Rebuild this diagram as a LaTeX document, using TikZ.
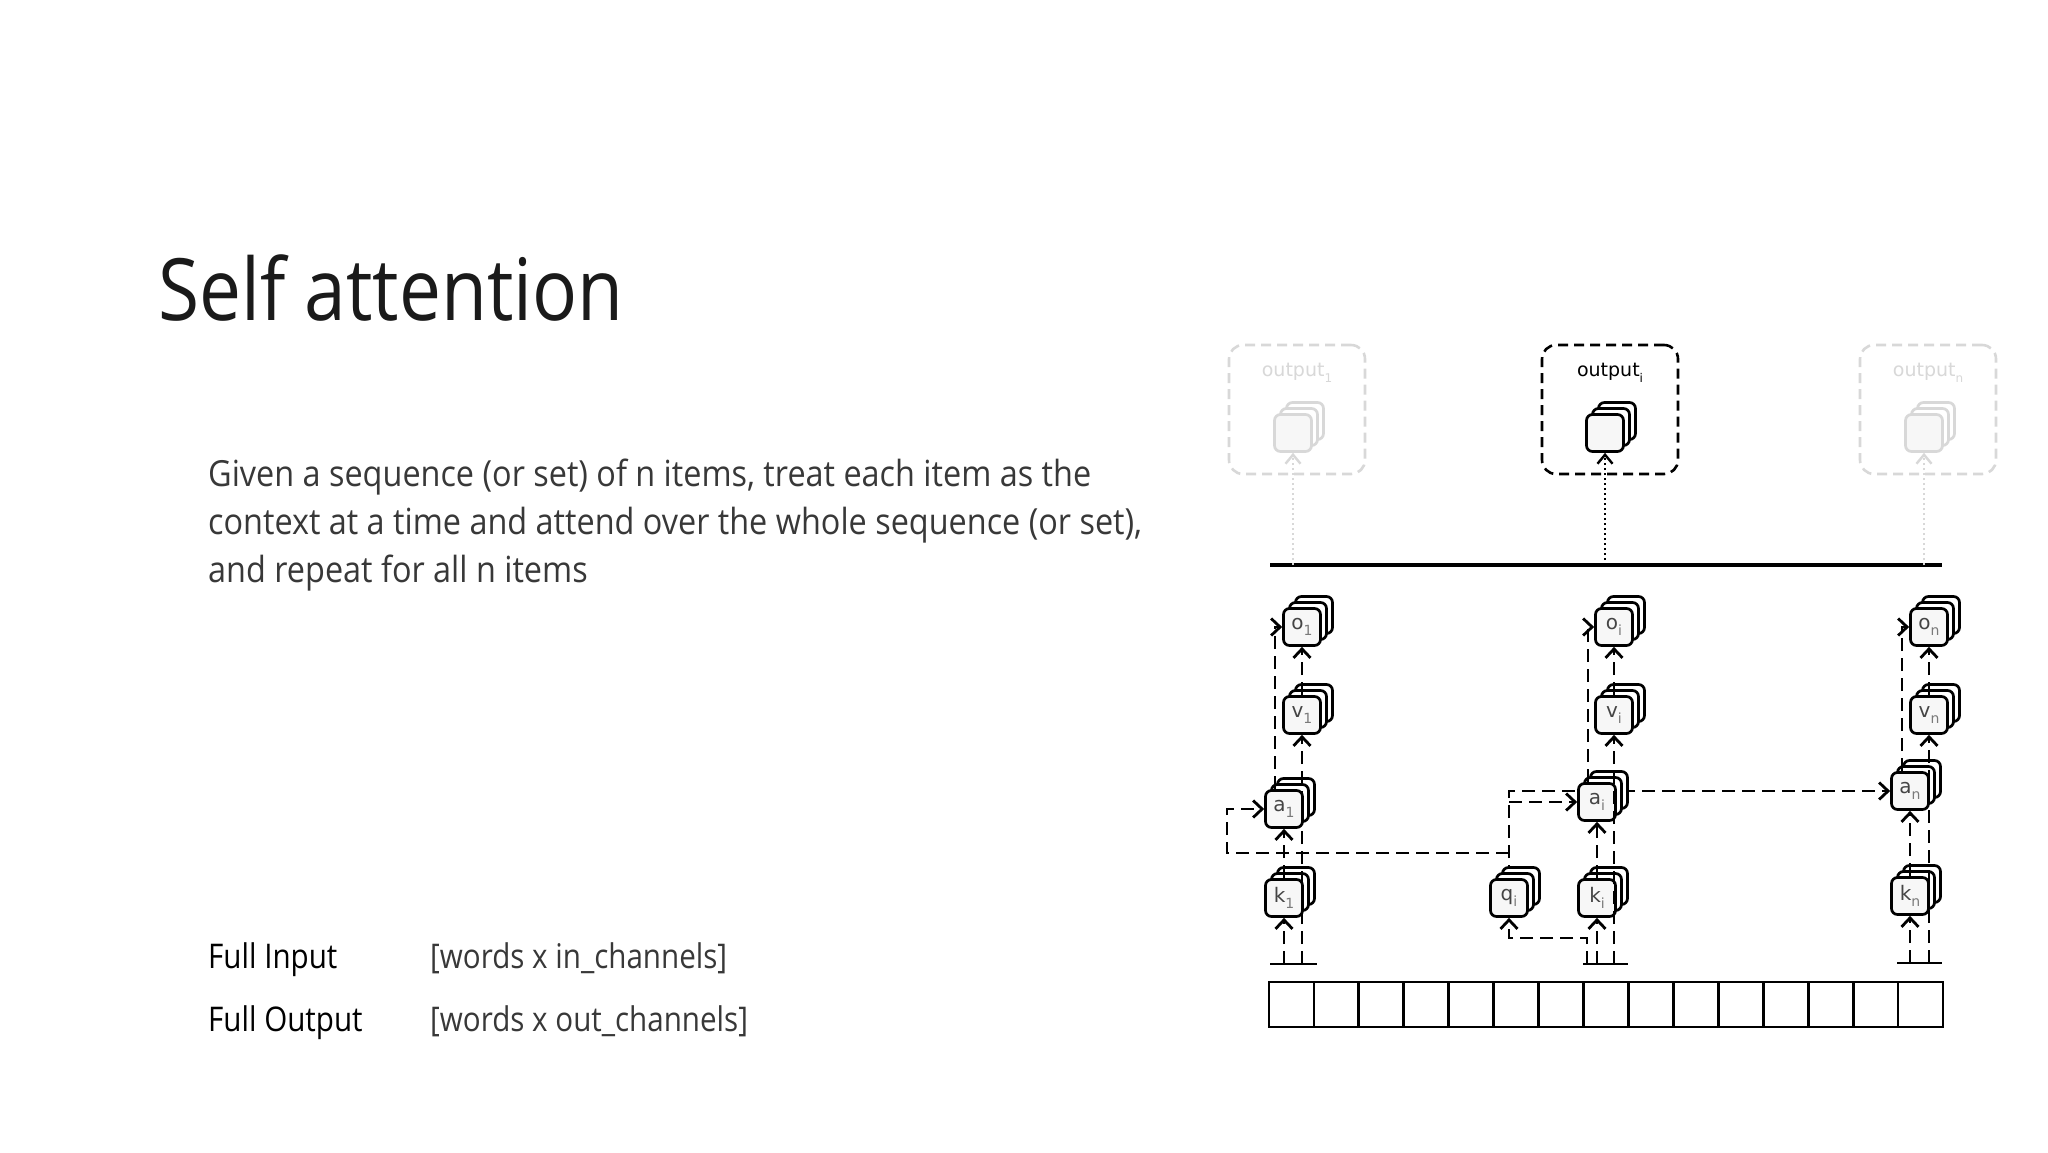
\documentclass[tikz,border=0pt]{standalone}
\usepackage{fontspec}
\setmainfont{Open Sans}
\newfontfamily\slidefont{Open Sans}[FakeStretch=0.87]
\newfontfamily\bodyfont{Open Sans}[FakeStretch=0.9]
\newfontfamily\dejavu{DejaVu Sans}
\usetikzlibrary{arrows.meta,backgrounds,calc}
\definecolor{ink}{HTML}{1A1A1A}
\definecolor{bodyc}{HTML}{383838}
\definecolor{lbl}{HTML}{454545}
\definecolor{sublbl}{HTML}{7A7A7A}
\definecolor{faint}{HTML}{D8D8D8}
\definecolor{frontfill}{HTML}{F7F7F7}
\newcommand\lab[2]{#1\raisebox{-0.3em}{\fontsize{14}{14}\selectfont\color{sublbl}#2}}
\newcommand\olab[2]{#1\raisebox{-0.3em}{\fontsize{12}{12}\selectfont #2}}
\newcommand\stk[5][]{%
  \node[stkbox,fill=white,#1] (#2b2) at ({#3+12},{#4-12}) {};
  \node[stkbox,fill=white,#1] (#2b1) at ({#3+6},{#4-6}) {};
  \node[stkbox,fill=frontfill,#1] (#2) at (#3,#4) {#5};
}
\tikzset{
  stkbox/.style={draw, line width=2.7, rounded corners=6, minimum width=37, minimum height=37, inner sep=0, font=\dejavu\fontsize{20}{20}\selectfont, text=lbl},
  con/.style={line width=2.8, dash pattern=on 13pt off 7pt},
  arr/.style={-{Straight Barb[length=9pt,width=17pt]}},
  dotarr/.style={line width=2.4, dash pattern=on 2.5pt off 2.5pt, -{Straight Barb[length=9pt,width=15pt]}},
  outbox/.style={draw, line width=2.6, rounded corners=14, minimum width=136, minimum height=129, inner sep=0, dash pattern=on 10pt off 6pt},
  outlab/.style={font=\dejavu\fontsize{19}{19}\selectfont, inner sep=0},
  cell/.style={draw, line width=2.8, minimum width=44.93, minimum height=45, inner sep=0},
  bar/.style={line width=2.8},
  txt/.style={anchor=base west, inner sep=0},
}
\begin{document}
\begin{tikzpicture}[x=1pt,y=-1pt]
\useasboundingbox (0,0) rectangle (2048,1152);
% ---- left text ----
\node[txt, text=ink, font=\slidefont\fontsize{86}{100}\selectfont] (title) at (158,320) {Self attention};
\node[txt, text=bodyc, font=\bodyfont\fontsize{36}{44}\selectfont] (l1) at (208,486) {Given a sequence (or set) of n items, treat each item as the};
\node[txt, text=bodyc, font=\bodyfont\fontsize{36}{44}\selectfont] (l2) at (208,534) {context at a time and attend over the whole sequence (or set),};
\node[txt, text=bodyc, font=\bodyfont\fontsize{36}{44}\selectfont] (l3) at (208,582) {and repeat for all n items};
\node[txt, text=black, font=\slidefont\fontsize{34}{40}\selectfont] (fi) at (208,968) {Full Input};
\node[txt, text=bodyc, font=\slidefont\fontsize{34}{40}\selectfont] (fiv) at (430,968) {[words x in\_channels]};
\node[txt, text=black, font=\slidefont\fontsize{34}{40}\selectfont] (fo) at (208,1031) {Full Output};
\node[txt, text=bodyc, font=\slidefont\fontsize{34}{40}\selectfont] (fov) at (430,1031) {[words x out\_channels]};
% ---- outputs ----
\node[outbox, draw=faint] (out1) at (1297,409.5) {};
\node[outbox, draw=black] (outi) at (1610,409.5) {};
\node[outbox, draw=faint] (outn) at (1928,409.5) {};
\node[outlab, text=faint] (out1lab) at (1297,373) {\olab{output}{1}};
\node[outlab, text=black] (outilab) at (1610,373) {\olab{output}{i}};
\node[outlab, text=faint] (outnlab) at (1928,373) {\olab{output}{n}};
\stk[draw=faint]{os1}{1293}{433}{}
\stk{osi}{1605}{433}{}
\stk[draw=faint]{osn}{1924}{433}{}
\coordinate (hlL) at (1270,565);
\coordinate (hlR) at (1942,565);
\draw[line width=3.4] (hlL) -- (hlR);
\draw[dotarr, draw=faint] (os1.south |- hlL) -- (os1.south);
\draw[dotarr] (osi.south |- hlL) -- (osi.south);
\draw[dotarr, draw=faint] (osn.south |- hlL) -- (osn.south);
% ---- stacks ----
\stk{o1}{1302}{627}{\lab{o}{1}}
\stk{v1}{1302}{715}{\lab{v}{1}}
\stk{a1}{1284}{809}{\lab{a}{1}}
\stk{k1}{1284}{898}{\lab{k}{1}}
\stk{oi}{1614}{627}{\lab{o}{i}}
\stk{vi}{1614}{715}{\lab{v}{i}}
\stk{ai}{1597}{802}{\lab{a}{i}}
\stk{ki}{1597}{898}{\lab{k}{i}}
\stk{qi}{1509}{898}{\lab{q}{i}}
\stk{on}{1929}{627}{\lab{o}{n}}
\stk{vn}{1929}{715}{\lab{v}{n}}
\stk{an}{1910}{791}{\lab{a}{n}}
\stk{kn}{1910}{896}{\lab{k}{n}}
% ---- input row ----
\foreach \i in {0,...,14} {
  \node[cell] (c\i) at ({1269+44.93*\i+22.47},1004.5) {};
}
\coordinate (b1L) at (1270,964); \coordinate (b1R) at (1317,964);
\coordinate (biL) at (1583,964); \coordinate (biR) at (1628,964);
\coordinate (bnL) at (1897,963); \coordinate (bnR) at (1942,963);
\draw[bar] (b1L) -- (b1R);
\draw[bar] (biL) -- (biR);
\draw[bar] (bnL) -- (bnR);
% ---- behind connectors ----
\begin{scope}[on background layer]
\fill[white] (0,0) rectangle (2048,1152);
\draw[con,arr] (qi.north) -- (qi.north |- an.west) -- (an.west);
\end{scope}
% ---- column 1 ----
\draw[con,arr] (k1.south |- b1L) -- (k1.south);
\draw[con,arr] (v1.south |- b1L) -- (v1.south);
\draw[con,arr] (k1.north) -- (a1.south);
\draw[con,arr] (v1.north) -- (o1.south);
\draw[con,arr] ([xshift=-9pt]a1.north) |- (o1.west);
% ---- column i ----
\draw[con,arr] (ki.south |- biL) -- (ki.south);
\draw[con,arr] (vi.south |- biL) -- (vi.south);
\draw[con,arr] (ki.north) -- (ai.south);
\draw[con,arr] (vi.north) -- (oi.south);
\draw[con,arr] ([xshift=-9pt]ai.north) |- (oi.west);
\coordinate (qin) at (1587,964);
\coordinate (qturn) at (1509,938);
\draw[con,arr] (qin) |- (qturn) -- (qi.south);
\draw[con,arr] (qi.north |- ai.west) -- (ai.west);
\coordinate (qj) at (1509,853);
\coordinate (lc) at (1227,853);
\draw[con,arr] (qj) -- (lc) |- (a1.west);
% ---- column n ----
\draw[con,arr] (kn.south |- bnL) -- (kn.south);
\draw[con,arr] (vn.south |- bnL) -- (vn.south);
\draw[con,arr] (kn.north) -- (an.south);
\draw[con,arr] (vn.north) -- (on.south);
\draw[con,arr] ([xshift=-8pt]an.north) |- (on.west);
\end{tikzpicture}
\end{document}
